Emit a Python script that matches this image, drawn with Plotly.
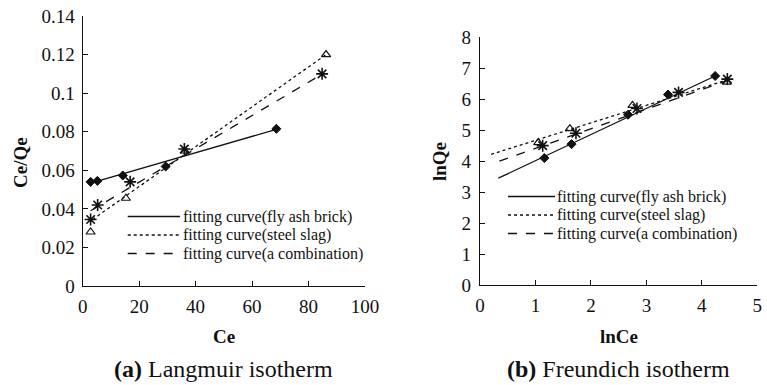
import plotly.graph_objects as go

# ---------------- data ----------------
# (a) Langmuir isotherm
la_ce_fly = [2.8, 5.2, 14.2, 29.4, 68.6]
la_cq_fly = [0.054, 0.0545, 0.0573, 0.062, 0.0815]
la_ce_steel = [2.8, 15.3, 36.2, 86.2]
la_cq_steel = [0.028, 0.0455, 0.070, 0.120]
la_ce_comb = [2.8, 5.3, 16.8, 36.0, 84.8]
la_cq_comb = [0.0345, 0.042, 0.054, 0.071, 0.110]
la_fit_fly_x = [2.8, 68.6]
la_fit_fly_y = [0.0533, 0.0812]
la_fit_steel_x = [3.5, 86.2]
la_fit_steel_y = [0.0345, 0.120]
la_fit_comb_x = [2.8, 85.0]
la_fit_comb_y = [0.039, 0.110]

# (b) Freundlich isotherm
fr_x_fly = [1.16, 1.65, 2.67, 3.39, 4.24]
fr_y_fly = [4.1, 4.55, 5.5, 6.15, 6.75]
fr_x_steel = [1.05, 1.62, 2.75, 4.45]
fr_y_steel = [4.6, 5.05, 5.8, 6.55]
fr_x_comb = [1.13, 1.73, 2.83, 3.58, 4.46]
fr_y_comb = [4.5, 4.9, 5.7, 6.22, 6.65]
fr_fit_fly_x = [0.33, 4.24]
fr_fit_fly_y = [3.45, 6.75]
fr_fit_steel_x = [0.2, 4.45]
fr_fit_steel_y = [4.22, 6.62]
fr_fit_comb_x = [0.35, 4.46]
fr_fit_comb_y = [4.0, 6.6]

la_yticks = [0, 0.02, 0.04, 0.06, 0.08, 0.1, 0.12, 0.14]
la_yticktext = ["0", "0.02", "0.04", "0.06", "0.08", "0.1", "0.12", "0.14"]
la_xticks = [0, 20, 40, 60, 80, 100]
fr_yticks = [0, 1, 2, 3, 4, 5, 6, 7, 8]
fr_xticks = [0, 1, 2, 3, 4, 5]

legend_labels = ["fitting curve(fly ash brick)", "fitting curve(steel slag)",
                 "fitting curve(a combination)"]
legend_dashes = ["solid", "dot", "dash"]

# ---------------- figure ----------------
W, H = 767, 385
FONT = '"Liberation Serif", "Times New Roman", Times, serif'
BLACK = "#111111"


def px(x):
    return x / W


def py(y):
    return 1 - y / H


fig = go.Figure()

line_w = 1.3


def add_fit(x, y, dash, xa, ya):
    fig.add_trace(go.Scatter(x=x, y=y, mode="lines", xaxis=xa, yaxis=ya,
                             line=dict(color=BLACK, width=line_w, dash=dash),
                             showlegend=False, hoverinfo="skip"))


def add_pts(x, y, symbol, size, xa, ya, lw=1.2):
    fig.add_trace(go.Scatter(x=x, y=y, mode="markers", xaxis=xa, yaxis=ya,
                             marker=dict(symbol=symbol, size=size, color=BLACK,
                                         line=dict(color=BLACK, width=lw)),
                             showlegend=False))


# left panel
add_fit(la_fit_fly_x, la_fit_fly_y, "solid", "x", "y")
add_fit(la_fit_steel_x, la_fit_steel_y, "dot", "x", "y")
add_fit(la_fit_comb_x, la_fit_comb_y, "dash", "x", "y")
add_pts(la_ce_fly, la_cq_fly, "diamond", 7, "x", "y", 1)
add_pts(la_ce_steel, la_cq_steel, "triangle-up-open", 8, "x", "y")
add_pts(la_ce_comb, la_cq_comb, "asterisk-open", 10, "x", "y", 1.6)

# right panel
add_fit(fr_fit_fly_x, fr_fit_fly_y, "solid", "x2", "y2")
add_fit(fr_fit_steel_x, fr_fit_steel_y, "dot", "x2", "y2")
add_fit(fr_fit_comb_x, fr_fit_comb_y, "dash", "x2", "y2")
add_pts(fr_x_fly, fr_y_fly, "diamond", 7, "x2", "y2", 1)
add_pts(fr_x_steel, fr_y_steel, "triangle-up-open", 8, "x2", "y2")
add_pts(fr_x_comb, fr_y_comb, "asterisk-open", 10, "x2", "y2", 1.6)

axis_common = dict(showline=True, linecolor=BLACK, linewidth=1.2, ticks="inside",
                   ticklen=5, tickwidth=1.2, tickcolor=BLACK, showgrid=False,
                   zeroline=False, mirror=False, automargin=False,
                   tickfont=dict(family=FONT, size=19, color=BLACK))

fig.update_layout(
    width=W, height=H, margin=dict(l=0, r=0, t=0, b=0, pad=0, autoexpand=False),
    paper_bgcolor="white", plot_bgcolor="white", showlegend=False,
    font=dict(family=FONT, color=BLACK),
    xaxis=dict(domain=[px(82.7), px(365)], range=[0, 100], tickvals=la_xticks,
               anchor="y", ticklabelstandoff=3, **axis_common),
    yaxis=dict(domain=[py(286), py(16)], range=[0, 0.14], tickvals=la_yticks,
               ticktext=la_yticktext, anchor="x", ticklabelstandoff=3,
               **axis_common),
    xaxis2=dict(domain=[px(480), px(757.3)], range=[0, 5], tickvals=fr_xticks,
                anchor="y2", ticklabelstandoff=3, **axis_common),
    yaxis2=dict(domain=[py(285), py(37.3)], range=[0, 8], tickvals=fr_yticks,
                anchor="x2", ticklabelstandoff=4, **axis_common),
)

ann = []
# axis titles
ann.append(dict(text="<b>Ce</b>", x=px(224), y=py(336)))
ann.append(dict(text="<b>lnCe</b>", x=px(619), y=py(336)))
ann.append(dict(text="<b>Ce/Qe</b>", x=px(20), y=py(163), textangle=-90))
ann.append(dict(text="<b>lnQe</b>", x=px(440), y=py(162), textangle=-90))
for a in ann:
    a.update(xref="paper", yref="paper", showarrow=False, borderpad=0,
             font=dict(family=FONT, size=19, color=BLACK),
             xanchor="center", yanchor="middle")

captions = [dict(text="<b>(a)</b> Langmuir isotherm", x=px(224), y=py(369)),
            dict(text="<b>(b)</b> Freundich isotherm", x=px(618), y=py(369))]
for c in captions:
    c.update(xref="paper", yref="paper", showarrow=False, borderpad=0,
             font=dict(family=FONT, size=24, color=BLACK),
             xanchor="center", yanchor="middle")
    ann.append(c)

# legends (drawn as sample lines + text)
shapes = []
legend_boxes = [dict(x0=127.7, x1=180, xt=181.5, rows=[216.5, 235, 253.5]),
                dict(x0=508, x1=555, xt=556, rows=[196.5, 215, 233.5])]
for lb in legend_boxes:
    for lab, dash, ry in zip(legend_labels, legend_dashes, lb["rows"]):
        shapes.append(dict(type="line", xref="paper", yref="paper",
                           x0=px(lb["x0"]), x1=px(lb["x1"]), y0=py(ry), y1=py(ry),
                           line=dict(color=BLACK, width=1.5, dash=dash)))
        ann.append(dict(text=lab, xref="paper", yref="paper", showarrow=False,
                        x=px(lb["xt"]), y=py(ry), xanchor="left", yanchor="middle",
                        borderpad=0,
                        font=dict(family=FONT, size=16, color=BLACK)))

fig.update_layout(annotations=ann, shapes=shapes)

fig.write_html("out.html")
